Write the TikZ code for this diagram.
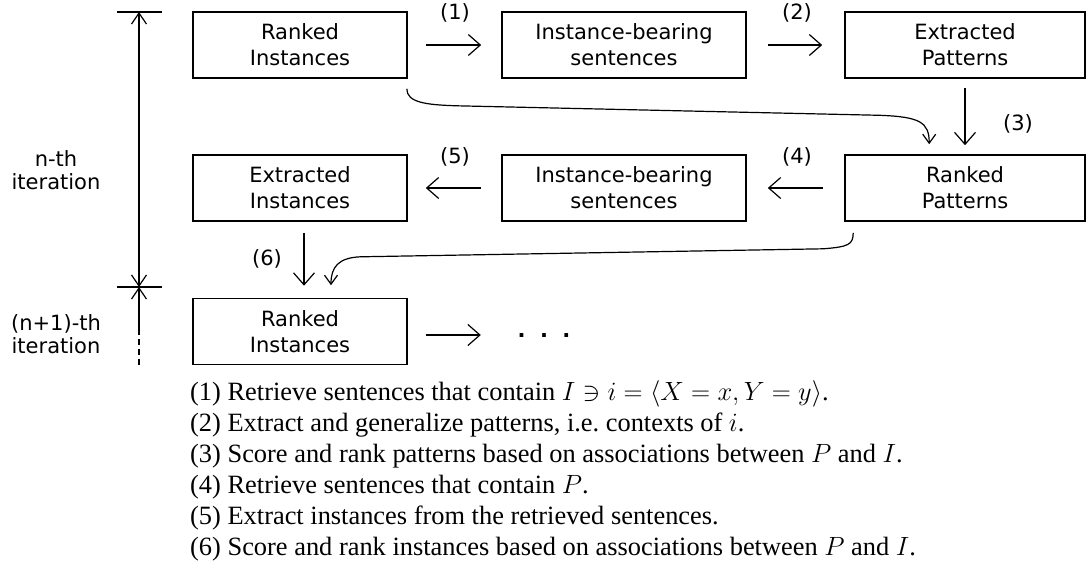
\RequirePackage{fix-cm}
\documentclass[tikz,border=0pt]{standalone}
\usepackage[no-math]{fontspec}
\setmainfont{Liberation Serif}
\newfontfamily\sansf{DejaVu Sans}
\usetikzlibrary{arrows.meta,calc}
\tikzset{
  vtip/.tip={Straight Barb[length=11pt,width=15pt,line width=1.2pt]},
  bigtip/.tip={Straight Barb[length=12pt,width=21pt,line width=1.2pt]},
  smalltip/.tip={Straight Barb[length=9pt,width=13pt,line width=1.2pt]}
}
\begin{document}
\begin{tikzpicture}[x=1pt,y=-1pt,
  sfont/.style={font=\sansf\fontsize{21}{26}\selectfont},
  box/.style={draw, line width=1.6pt, minimum height=66pt, inner sep=0pt, sfont, align=center},
  boxS/.style={box, minimum width=214pt},
  boxM/.style={box, minimum width=244pt},
  boxL/.style={box, minimum width=240pt},
  lbl/.style={inner sep=0pt, sfont},
  side/.style={inner sep=0pt, align=center, font=\sansf\fontsize{21}{23}\selectfont},
  arr/.style={line width=1.2pt, -bigtip},
  carr/.style={line width=1.2pt, -smalltip},
  tick/.style={line width=2pt},
  stext/.style={anchor=base west, inner sep=0pt, font=\fontsize{26.4}{31}\selectfont}]
\useasboundingbox (0,0) rectangle (1087,574);

% boxes
\node[boxS] (ri1)  at (300,45)    {Ranked\\Instances};
\node[boxM] (ibs1) at (624,45)    {Instance-bearing\\sentences};
\node[boxL] (ep)   at (965,45)    {Extracted\\Patterns};
\node[boxL] (rp)   at (965,188)   {Ranked\\Patterns};
\node[boxM] (ibs2) at (624,188)   {Instance-bearing\\sentences};
\node[boxS] (ei)   at (300,188)   {Extracted\\Instances};
\node[boxS] (ri2)  at (300,331.5) {Ranked\\Instances};

% step labels
\node[lbl] (l1) at (455,12.5) {(1)};
\node[lbl] (l2) at (797,12.5) {(2)};
\node[lbl] (l3) at (1018,124) {(3)};
\node[lbl] (l4) at (797,157)  {(4)};
\node[lbl] (l5) at (455,157)  {(5)};
\node[lbl] (l6) at (267,259)  {(6)};

% straight arrows
\draw[arr, shorten <=18pt, shorten >=20pt] (ri1) -- (ibs1);
\draw[arr, shorten <=21pt, shorten >=22pt] (ibs1) -- (ep);
\draw[arr, shorten <=9pt, shorten >=9pt] (ep) -- (rp);
\draw[arr, shorten <=21pt, shorten >=21pt] (rp) -- (ibs2);
\draw[arr, shorten <=20pt, shorten >=18pt] (ibs2) -- (ei);
\draw[arr] ($(ei.south)+(4,11)$) -- ($(ri2.north)+(4,-12)$);

% curved arrows
\coordinate (c1s) at ($(ri1.south east)+(-1,10)$);
\coordinate (c1e) at ($(rp.north west)+(85,-10)$);
\draw[carr] (c1s) .. controls +(0,14) and +(-30,-1) .. ++(50,17)
  -- ++(423,9.5) .. controls +(40,1.5) and ($(c1e)+(0,-22)$) .. (c1e);
\coordinate (c2s) at ($(rp.south west)+(9,11)$);
\coordinate (c2e) at ($(ri2.north)+(31,-12.5)$);
\draw[carr] (c2s) .. controls +(0,12) and +(25,-2) .. ++(-30,16)
  -- ++(-463,8) .. controls +(-22,1) and ($(c2e)+(0,-18)$) .. (c2e);

% next iteration
\node[inner sep=0pt, anchor=base, font=\sansf\bfseries\fontsize{21}{26}\selectfont] (dots) at (544,337.5)
  {.\hspace{14.5pt}.\hspace{14.5pt}.};
\draw[arr] ($(ri2.east)+(18,3.5)$) -- ++(55,0);

% iteration markers
\coordinate (itTop) at (139,12);
\coordinate (itMid) at (139,287);
\coordinate (itSol) at (139,335);
\coordinate (itDash) at (139,339);
\coordinate (itEnd) at (139,365);
\draw[tick] ($(itTop)+(-22,0)$) -- ($(itTop)+(23,0)$);
\draw[tick] ($(itMid)+(-22,0)$) -- ($(itMid)+(23,0)$);
\draw[line width=1.2pt, vtip-vtip] (itTop) -- (itMid);
\draw[line width=1.2pt, -vtip] (itSol) -- (itMid);
\draw[line width=1.2pt, dash pattern=on 6pt off 4pt] (itDash) -- (itEnd);
\node[side] (nth) at (56,170) {n-th\\iteration};
\node[side] (n1th) at (56,334) {(n+1)-th\\iteration};

% description
\node[stext] (t1) at (190,400) {(1) Retrieve sentences that contain $I \ni i = \langle X = x, Y = y\rangle$.};
\node[stext] (t2) at (190,431) {(2) Extract and generalize patterns, i.e.\ contexts of $i$.};
\node[stext] (t3) at (190,462) {(3) Score and rank patterns based on associations between $P$ and $I$.};
\node[stext] (t4) at (190,493) {(4) Retrieve sentences that contain $P$.};
\node[stext] (t5) at (190,524) {(5) Extract instances from the retrieved sentences.};
\node[stext] (t6) at (190,555) {(6) Score and rank instances based on associations between $P$ and $I$.};
\end{tikzpicture}
\end{document}
